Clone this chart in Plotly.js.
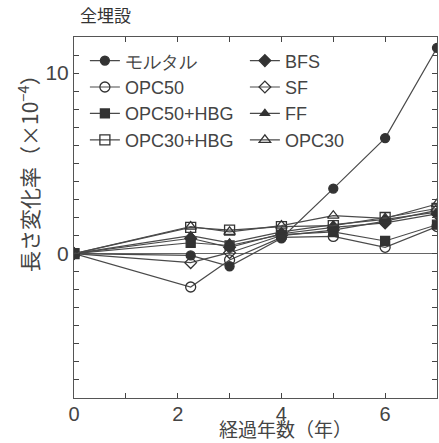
<!DOCTYPE html>
<html>
<head>
<meta charset="utf-8">
<script src="https://cdn.plot.ly/plotly-3.0.1.min.js"></script>
<style>html,body{margin:0;padding:0;background:#fff;}#chart{width:439px;height:443px;}</style>
</head>
<body>
<div id="chart"></div>
<script>
const years = [0, 2.25, 3, 4, 5, 6, 7];
const mortar = [0, -0.1, -0.7, 0.85, 3.6, 6.4, 11.4];
const opc50 = [0, -1.85, -0.35, 0.9, 0.95, 0.35, 1.5];
const opc50hbg = [0, 0.6, 0.45, 1.05, 1.2, 0.7, 1.6];
const opc30hbg = [0, 1.45, 1.3, 1.5, 1.55, 2.0, 2.5];
const bfs = [0, 0.85, 0.35, 1.1, 1.45, 1.7, 2.2];
const sf = [0, -0.5, 0.05, 1.0, 1.3, 1.8, 2.4];
const ff = [0, 1.0, 0.6, 1.2, 1.6, 1.9, 2.3];
const opc30 = [0, 1.5, 1.2, 1.55, 2.1, 1.95, 2.75];

const names = ['モルタル', 'BFS', 'OPC50', 'SF', 'OPC50+HBG', 'FF', 'OPC30+HBG', 'OPC30'];
const series = [mortar, bfs, opc50, sf, opc50hbg, ff, opc30hbg, opc30];
const symbols = ['circle', 'diamond', 'circle-open', 'diamond-open', 'square', 'triangle-up', 'square-open', 'triangle-up-open'];
const sizes = [9, 9, 10, 9, 9, 8, 10, 10];

const yTickVals = [-8,-7,-6,-5,-4,-3,-2,-1,0,1,2,3,4,5,6,7,8,9,10,11,12];
const yTickText = yTickVals.map(v => (v === 0 || v === 10) ? String(v) : '');
const xTickVals = [0,1,2,3,4,5,6,7];
const xTickText = xTickVals.map(v => (v % 2 === 0) ? String(v) : '');

const lineColor = '#4a4a4a';
const traces = series.map((ys, i) => ({
  x: years, y: ys, name: names[i], type: 'scatter', mode: 'lines+markers',
  line: {color: lineColor, width: 1.2},
  marker: {symbol: symbols[i], size: sizes[i], color: '#333', line: {color: '#333', width: 1.3}}
}));

const layout = {
  width: 439, height: 443,
  margin: {l: 74, r: 2, t: 37, b: 45},
  paper_bgcolor: '#fff', plot_bgcolor: '#fff',
  font: {family: 'Liberation Sans, Arial, sans-serif', color: '#444'},
  showlegend: true,
  legend: {orientation: 'h', x: 0.03, y: 0.985, xanchor: 'left', yanchor: 'top',
    entrywidth: 115, entrywidthmode: 'pixels', bgcolor: 'rgba(0,0,0,0)',
    font: {size: 18, color: '#444'}, itemwidth: 30, traceorder: 'normal'},
  xaxis: {range: [0, 7], tickvals: xTickVals, ticktext: xTickText, ticks: 'inside', ticklen: 5,
    mirror: 'ticks', showline: true, linecolor: '#555', linewidth: 1, showgrid: false, zeroline: false,
    ticklabelstandoff: -2,
    tickfont: {size: 20, color: '#444'}},
  yaxis: {range: [-8, 12], tickvals: yTickVals, ticktext: yTickText, ticks: 'inside', ticklen: 5,
    mirror: 'ticks', showline: true, linecolor: '#555', linewidth: 1, showgrid: false,
    zeroline: true, zerolinecolor: '#666', zerolinewidth: 1,
    tickfont: {size: 21, color: '#444'}},
  annotations: [
    {text: '全埋設', xref: 'paper', yref: 'paper', x: 0.01, y: 1.061, xanchor: 'left', yanchor: 'middle',
      showarrow: false, font: {family: 'Noto Sans CJK JP', size: 17, color: '#333'}},
    {text: '経過年数（年）', xref: 'paper', yref: 'paper', x: 0.584, y: -0.085, xanchor: 'center', yanchor: 'middle',
      showarrow: false, font: {family: 'Noto Sans CJK JP', size: 19, color: '#444'}},
    {text: '長さ変化率（×10<sup>−4</sup>）', xref: 'paper', yref: 'paper', x: -0.127, y: 0.637, xanchor: 'center', yanchor: 'middle',
      textangle: -90, showarrow: false, font: {family: 'Noto Sans CJK JP', size: 21, color: '#444'}}
  ]
};

Plotly.newPlot('chart', traces, layout, {displayModeBar: false, staticPlot: true});
</script>
</body>
</html>
